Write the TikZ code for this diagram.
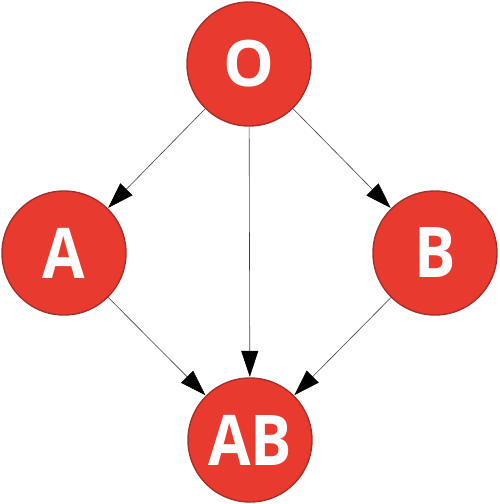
\documentclass[tikz,border=0pt]{standalone}
\usepackage{fontspec}
\setmainfont{Open Sans}
\newfontfamily\narrowbold[FakeStretch=0.88]{Open Sans Bold}
\newfontfamily\roundbold{Open Sans Bold}
\usetikzlibrary{arrows.meta}
\definecolor{circfill}{HTML}{E83A2F}
\definecolor{circedge}{HTML}{A3302A}
\begin{document}
\begin{tikzpicture}[x=1pt,y=1pt,
  blood/.style={circle, fill=circfill, draw=circedge, line width=1.4pt,
    minimum size=124pt, inner sep=0pt, text=white,
    font=\narrowbold\fontsize{70}{70}\selectfont},
  roundtext/.style={font=\roundbold\fontsize{64}{64}\selectfont},
  link/.style={draw=black!75, line width=0.6pt,
    -{Triangle[length=26pt,width=17pt,fill=black,color=black]}, shorten >=0.5pt}]
\useasboundingbox (0,0) rectangle (500,-504);
\node[blood, roundtext] (O) at (249,-64) {O};
\node[blood] (A) at (64,-253) {A};
\node[blood] (B) at (435,-253) {B};
\node[blood] (AB) at (250,-440) {AB};
\draw[link] (O) -- (A);
\draw[link] (O) -- (B);
\draw[link] (O) -- (AB);
\draw[link] (A) -- (AB);
\draw[link] (B) -- (AB);
\end{tikzpicture}
\end{document}
